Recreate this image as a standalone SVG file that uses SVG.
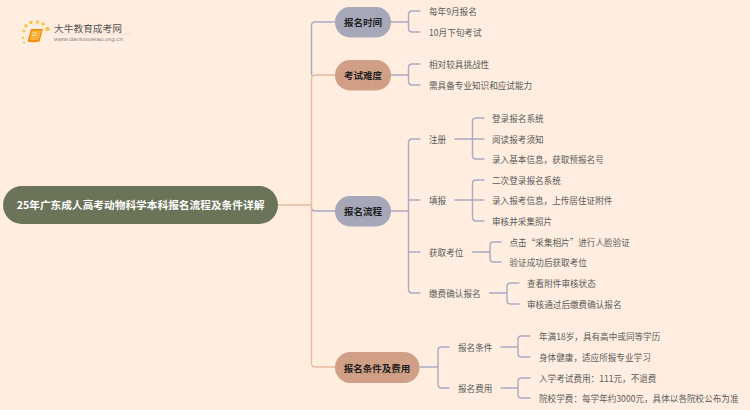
<svg xmlns="http://www.w3.org/2000/svg" width="750" height="410" viewBox="0 0 750 410">
<style>
text{font-family:"Noto Sans CJK SC","Liberation Sans",sans-serif;dominant-baseline:central}
.l{font-size:8.600px;fill:#5a5a5a}
.b{font-size:9.500px;font-weight:700;fill:#1e1e1e;text-anchor:middle}
.c{fill:none;stroke-width:1.4;stroke-linecap:round;stroke-linejoin:round}
.v{stroke:#a9abc2}.p{stroke:#e6bb9f}
</style>
<rect width="750" height="410" fill="#ffeee0"/>
<g id="logo">
<g fill="#f9c446"><circle cx="24" cy="31" r="1.6"/><circle cx="26" cy="26" r="1.7"/><circle cx="31" cy="22.500" r="1.800"/><circle cx="37.500" cy="22" r="1.800"/><circle cx="43" cy="24" r="1.800"/><circle cx="47.500" cy="29" r="2.200"/><circle cx="23" cy="38" r="1.200"/><circle cx="24" cy="42.500" r="1"/></g>
<path d="M31 29H43L39.500 41.500Q34 43 27.500 41.500Z" fill="#f08a12"/>
<path d="M32 30.500H41.500L38.500 40H29.500Z" fill="#fbb13c"/>
<path d="M32.500 33H37M32 35.500H36.500" stroke="#fff3d8" stroke-width="0.800" fill="none"/>
<text x="54" y="27.500" font-size="9.600" fill="#555" textLength="68" lengthAdjust="spacingAndGlyphs">大牛教育成考网</text>
<rect x="54" y="33.500" width="78" height="0.800" fill="#e8ddd2"/>
<text x="54" y="39" style="font-family:'Liberation Sans',sans-serif" font-size="6" fill="#888" textLength="69" lengthAdjust="spacingAndGlyphs">www.daniuxueiao.org.cn</text>
</g>
<g id="connectors">
<path class="c p" d="M278 205H311.500V79Q311.500 75 315 75H335"/>
<path class="c v" d="M311.500 75V26Q311.500 22 315 22H335"/>
<path class="c v" d="M311.500 207Q311.500 211 315 211H335"/>
<path class="c p" d="M311.500 205V363Q311.500 367 315 367H335"/>
<path class="c v" d="M391 22H408M420 11H412Q408.500 11 408.500 14.500V28.500Q408.500 32 412 32H420"/>
<path class="c v" d="M391 75H408M420 64H412Q408.500 64 408.500 67.500V81.500Q408.500 85 412 85H420"/>
<path class="c v" d="M391 211H408M420 139H412Q408.500 139 408.500 142.500V289.500Q408.500 293 412 293H420M408.500 200H420M408.500 252H420"/>
<path class="c v" d="M455 139H484M484 118H476Q472.500 118 472.500 121.500V155.500Q472.500 159 476 159H484"/>
<path class="c v" d="M455 200H484M484 180H476Q472.500 180 472.500 183.500V217.500Q472.500 221 476 221H484"/>
<path class="c v" d="M472.500 252H490M501 242H493.500Q490 242 490 245.500V258.500Q490 262 493.500 262H501"/>
<path class="c v" d="M489.500 293H507M519 283H511Q507 283 507 286.500V300.500Q507 304 511 304H519"/>
<path class="c v" d="M420 367H438M449 347H441.500Q438 347 438 350.500V384.500Q438 388 441.500 388H449"/>
<path class="c v" d="M501 347H518M530 336H521.500Q518 336 518 339.500V353.500Q518 357 521.500 357H530"/>
<path class="c v" d="M501 388H518M530 378H521.500Q518 378 518 381.500V394.500Q518 398 521.500 398H530"/>
</g>
<g id="root"><rect x="3" y="186" width="275" height="38" rx="19" fill="#6b7359"/><text x="140.500" y="204.500" font-size="10.700" font-weight="700" fill="#fff" text-anchor="middle">25年广东成人高考动物科学本科报名流程及条件详解</text></g>
<g id="n1"><rect x="335" y="7" width="56" height="30.500" rx="15" fill="#a6a7b9"/><text class="b" x="363" y="22">报名时间</text></g>
<g id="n2"><rect x="335" y="60" width="56" height="30.500" rx="15" fill="#d19f85"/><text class="b" x="363" y="75">考试难度</text></g>
<g id="n3"><rect x="335" y="196" width="56" height="30.500" rx="15" fill="#a6a7b9"/><text class="b" x="363" y="211">报名流程</text></g>
<g id="n4"><rect x="335" y="352" width="84.500" height="31" rx="15.500" fill="#d19f85"/><text class="b" x="377" y="367.500">报名条件及费用</text></g>
<g id="t1"><text class="l" x="429" y="11">每年9月报名</text></g>
<g id="t2"><text class="l" x="429" y="32">10月下旬考试</text></g>
<g id="t3"><text class="l" x="429" y="64">相对较具挑战性</text></g>
<g id="t4"><text class="l" x="429" y="85">需具备专业知识和应试能力</text></g>
<g id="s1"><text class="l" x="429" y="139">注册</text></g>
<g id="s2"><text class="l" x="429" y="200">填报</text></g>
<g id="s3"><text class="l" x="429" y="252">获取考位</text></g>
<g id="s4"><text class="l" x="429" y="293">缴费确认报名</text></g>
<g id="t5"><text class="l" x="492" y="118">登录报名系统</text></g>
<g id="t6"><text class="l" x="492" y="139">阅读报考须知</text></g>
<g id="t7"><text class="l" x="492" y="159">录入基本信息，获取预报名号</text></g>
<g id="t8"><text class="l" x="492" y="180">二次登录报名系统</text></g>
<g id="t9"><text class="l" x="492" y="200">录入报考信息，上传居住证附件</text></g>
<g id="t10"><text class="l" x="492" y="221">审核并采集照片</text></g>
<g id="t11"><text class="l" x="509.500" y="242">点击“采集相片”进行人脸验证</text></g>
<g id="t12"><text class="l" x="509.500" y="262">验证成功后获取考位</text></g>
<g id="t13"><text class="l" x="527" y="283">查看附件审核状态</text></g>
<g id="t14"><text class="l" x="527" y="304">审核通过后缴费确认报名</text></g>
<g id="s5"><text class="l" x="458" y="347">报名条件</text></g>
<g id="s6"><text class="l" x="458" y="388">报名费用</text></g>
<g id="t15"><text class="l" x="539" y="336">年满18岁，具有高中或同等学历</text></g>
<g id="t16"><text class="l" x="539" y="357">身体健康，适应所报专业学习</text></g>
<g id="t17"><text class="l" x="539" y="378">入学考试费用：111元，不退费</text></g>
<g id="t18"><text class="l" x="539" y="398">院校学费：每学年约3000元，具体以各院校公布为准</text></g>
</svg>
